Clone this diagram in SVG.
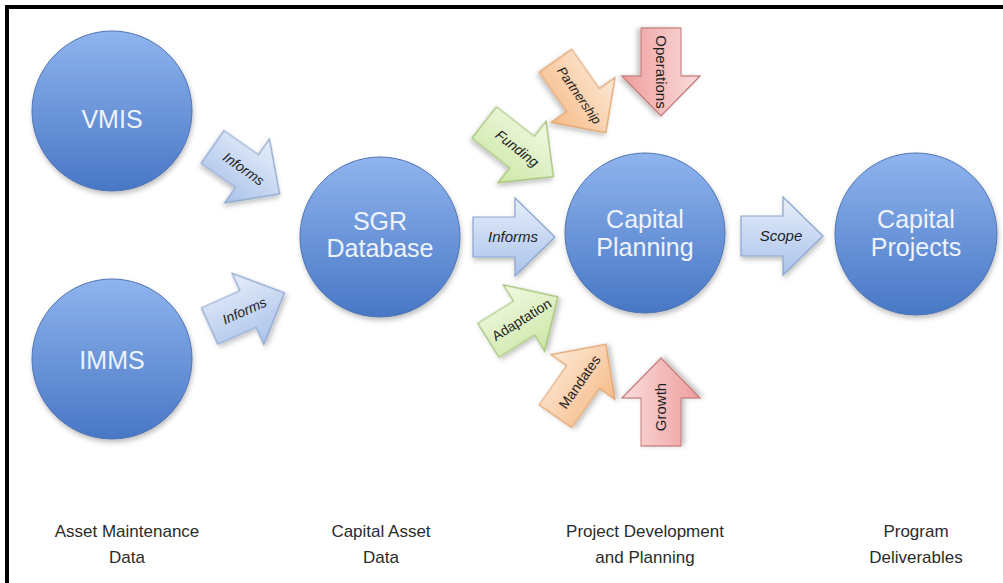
<svg xmlns="http://www.w3.org/2000/svg" xmlns:xlink="http://www.w3.org/1999/xlink" width="1003" height="583" viewBox="0 0 1003 583">
  <defs>
    <linearGradient id="gCircle" x1="0" y1="0" x2="0" y2="1">
      <stop offset="0" stop-color="#8fb4ee"/>
      <stop offset="1" stop-color="#4877c5"/>
    </linearGradient>
    <linearGradient id="gBlue" x1="0" y1="0" x2="0" y2="1">
      <stop offset="0" stop-color="#e6eefa"/>
      <stop offset="1" stop-color="#aac2ea"/>
    </linearGradient>
    <linearGradient id="gGreen" x1="0" y1="0" x2="0" y2="1">
      <stop offset="0" stop-color="#f2f9e4"/>
      <stop offset="1" stop-color="#cce7a6"/>
    </linearGradient>
    <linearGradient id="gOrange" x1="0" y1="0" x2="0" y2="1">
      <stop offset="0" stop-color="#fde9d6"/>
      <stop offset="1" stop-color="#f6bb88"/>
    </linearGradient>
    <linearGradient id="gRed" x1="0" y1="0" x2="0" y2="1">
      <stop offset="0" stop-color="#fbdcdc"/>
      <stop offset="1" stop-color="#ee9d9d"/>
    </linearGradient>
    <filter id="shadow" x="-20%" y="-20%" width="140%" height="140%">
      <feDropShadow dx="1" dy="3" stdDeviation="2.5" flood-color="#000" flood-opacity="0.25"/>
    </filter>
    <path id="arrS" d="M -42,-20 H 0 V -39 L 40,0 L 0,39 V 20 H -42 Z"/>
    <path id="arrL" d="M -48,-20 H 0 V -39 L 40,0 L 0,39 V 20 H -48 Z"/>
  </defs>
  <style>
    .frame { fill: none; stroke: #000; stroke-width: 4; }
    .circle { fill: url(#gCircle); stroke: #4f74b0; stroke-width: 1; filter: url(#shadow); }
    .ctext { font-family: "Liberation Sans", "Open Sans", sans-serif; font-size: 25px; fill: #eef3fb; text-anchor: middle; }
    .blue { fill: url(#gBlue); stroke: #8aa3cf; stroke-width: 1.2; filter: url(#shadow); }
    .green { fill: url(#gGreen); stroke: #9dbf70; stroke-width: 1.2; filter: url(#shadow); }
    .orange { fill: url(#gOrange); stroke: #dea06a; stroke-width: 1.2; filter: url(#shadow); }
    .red { fill: url(#gRed); stroke: #c47a7a; stroke-width: 1.2; filter: url(#shadow); }
    .atext { font-family: "Liberation Sans", "Open Sans", sans-serif; font-size: 14px; fill: #1e1e1e; text-anchor: middle; }
    .it { font-style: italic; }
    .label { font-family: "Liberation Sans", "Open Sans", sans-serif; font-size: 17px; fill: #2b2b2b; text-anchor: middle; }
  </style>

  <rect x="0" y="0" width="1003" height="583" fill="#ffffff"/>
  <path class="frame" d="M 7,583 V 7 H 1003"/>

  <g id="connectors">
    <g id="arrow-informs-vmis" transform="translate(247,171) rotate(35)">
      <use href="#arrS" class="blue"/>
      <text class="atext it" x="-4" y="5">Informs</text>
    </g>
    <g id="arrow-informs-imms" transform="translate(248,309) rotate(-24)">
      <use href="#arrS" class="blue"/>
      <text class="atext it" x="-4" y="5">Informs</text>
    </g>
    <g id="arrow-informs-sgr" transform="translate(515,237)">
      <use href="#arrS" class="blue"/>
      <text class="atext it" x="-2" y="5" style="font-size:15px">Informs</text>
    </g>
    <g id="arrow-scope" transform="translate(783,236)">
      <use href="#arrS" class="blue"/>
      <text class="atext it" x="-2" y="5" style="font-size:15px">Scope</text>
    </g>
    <g id="arrow-funding" transform="translate(522,152) rotate(38)">
      <use href="#arrL" class="green"/>
      <text class="atext it" x="-6" y="5">Funding</text>
    </g>
    <g id="arrow-partnership" transform="translate(583,100) rotate(55)">
      <use href="#arrL" class="orange"/>
      <text class="atext it" x="-6" y="5" style="font-size:13px">Partnership</text>
    </g>
    <g id="arrow-operations" transform="translate(661,76) rotate(90)">
      <use href="#arrL" class="red"/>
      <text class="atext" x="-4" y="5" style="font-size:15px">Operations</text>
    </g>
    <g id="arrow-adaptation" transform="translate(524,318) rotate(-32)">
      <use href="#arrS" class="green"/>
      <text class="atext" x="-3" y="5">Adaptation</text>
    </g>
    <g id="arrow-mandates" transform="translate(583,377) rotate(-55)">
      <use href="#arrL" class="orange"/>
      <text class="atext" x="-6" y="5">Mandates</text>
    </g>
    <g id="arrow-growth" transform="translate(661,398) rotate(-90)">
      <use href="#arrL" class="red"/>
      <text class="atext" x="-9" y="5" style="font-size:15px">Growth</text>
    </g>
  </g>

  <g id="node-vmis">
    <circle class="circle" cx="112" cy="111" r="80"/>
    <text class="ctext" x="112" y="128">VMIS</text>
  </g>
  <g id="node-imms">
    <circle class="circle" cx="112" cy="359" r="80"/>
    <text class="ctext" x="112" y="369">IMMS</text>
  </g>
  <g id="node-sgr">
    <circle class="circle" cx="380" cy="237" r="80"/>
    <text class="ctext" x="380" y="230">SGR</text>
    <text class="ctext" x="380" y="257">Database</text>
  </g>
  <g id="node-capital-planning">
    <circle class="circle" cx="645" cy="233" r="80"/>
    <text class="ctext" x="645" y="228">Capital</text>
    <text class="ctext" x="645" y="256">Planning</text>
  </g>
  <g id="node-capital-projects">
    <circle class="circle" cx="916" cy="234" r="81"/>
    <text class="ctext" x="916" y="228">Capital</text>
    <text class="ctext" x="916" y="256">Projects</text>
  </g>

  <g id="labels">
    <text class="label" x="127" y="537">Asset Maintenance</text>
    <text class="label" x="127" y="563">Data</text>
    <text class="label" x="381" y="537">Capital Asset</text>
    <text class="label" x="381" y="563">Data</text>
    <text class="label" x="645" y="537">Project Development</text>
    <text class="label" x="645" y="563">and Planning</text>
    <text class="label" x="916" y="537">Program</text>
    <text class="label" x="916" y="563">Deliverables</text>
  </g>
</svg>
